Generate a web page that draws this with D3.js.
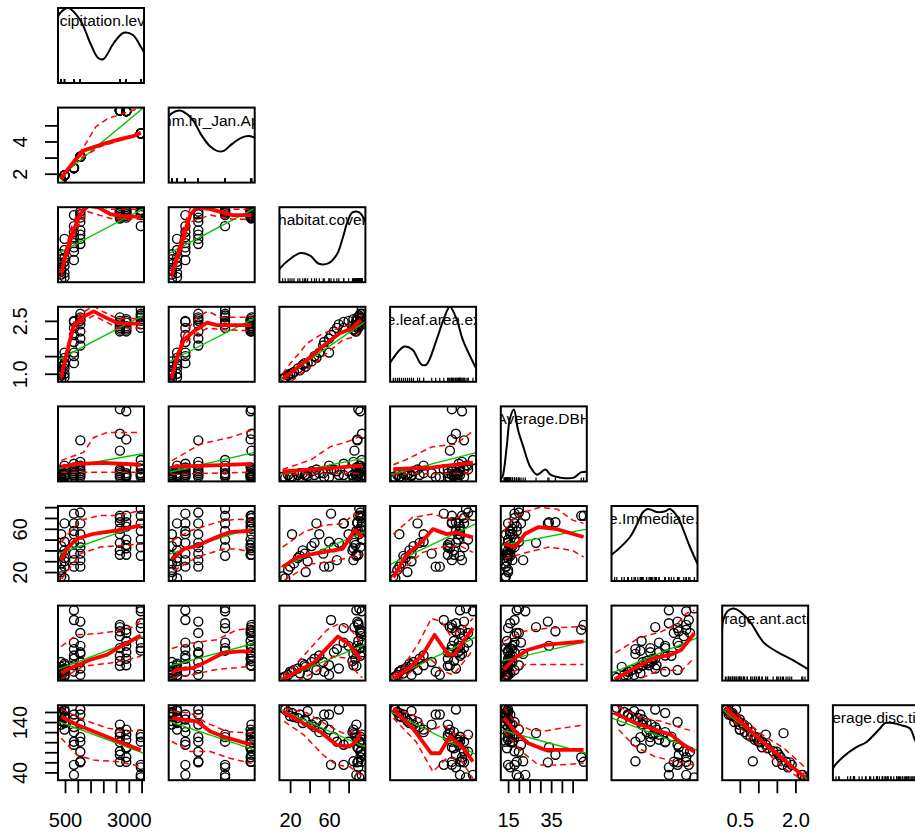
<!DOCTYPE html>
<html><head><meta charset="utf-8">
<script src="https://cdn.jsdelivr.net/npm/d3@7"></script>
<style>
body{margin:0;background:#fff}
svg{display:block}
text{font-family:"Liberation Sans",Arial,sans-serif;fill:#000}
</style>
</head><body>
<svg id="chart" width="915" height="835"></svg>
<script>
// Variable names shown on the diagonal
const varNames = ["precipitation.levels", "mm.hr_Jan.Apr", "habitat.cover", "Average.leaf.area.exposure",
  "Average.DBH", "Average.Immediate.canopy", "Average.ant.activity", "Average.disc.time"];

// One value per plot (7 sites)
const precipitation = [350,350,350,350,350,350,350, 480,480,480,480,480,480,480,
  850,850,850,850,850,850,850,850, 1100,1100,1100,1100,1100,1100,1100,1100,
  2650,2650,2650,2650,2650,2650,2650,2650, 2900,2900,2900,2900,2900,2900,2900,
  3470,3470,3470,3470,3470,3470,3470];
const mmHr = [1.62,1.62,1.62,1.62,1.62,1.62,1.62, 1.9,1.9,1.9,1.9,1.9,1.9,1.9,
  2.35,2.35,2.35,2.35,2.35,2.35,2.35,2.35, 3.05,3.05,3.05,3.05,3.05,3.05,3.05,3.05,
  5.93,5.93,5.93,5.93,5.93,5.93,5.93,5.93, 5.88,5.88,5.88,5.88,5.88,5.88,5.88,
  4.5,4.5,4.5,4.5,4.5,4.5,4.5];
const habitatCover = [12.3,18,24,30,36,42,22, 15,20,28,33,47,38,60,
  35,50,62,55,75,45,68,88, 54,89,70,80,60,92,65,85,
  90,93.8,86,92,88,91,84,93, 92,89,94,87,90,93,85,
  93.5,75,92,90,94,88,91];
const leafArea = [0.85,0.95,1.05,1.1,1.2,1.35,1.0, 0.9,1.0,1.15,1.25,1.45,1.3,1.6,
  1.3,1.6,2.1,1.9,2.47,1.5,2.3,2.5, 1.8,2.6,2.4,2.5,2.0,2.7,2.2,2.55,
  2.3,2.4,2.25,2.5,2.2,2.45,2.35,2.6, 2.55,2.3,2.45,2.2,2.35,2.5,2.25,
  2.82,2.3,2.6,2.4,2.7,2.5,2.65];
const dbh = [14,15,13.1,16,15,17,14, 13.5,14,15,16,18,14.5,20,
  15,16,18,14,21,15,17,19, 16,33.5,15,17,14,20,18,22,
  50.1,37,28,17,14,16,15,18, 49,34,15,16,14.5,19,13.5,
  23,15,14,16,18,15,20];
const immediate = [16,22,28,35,20,44,55, 14.3,25,33,40,65,30,48,
  37,55,74,25,65,47,31,58, 37,65,47,55,25,75,43,31,
  72,66,47,60,36,55,40,70, 72,66,50,45,36,62,42,
  72,65,43,58,50,35,78.5];
const antActivity = [0.11,0.2,0.35,0.25,0.45,0.6,0.3, 0.15,0.3,0.4,0.55,0.35,0.2,0.5,
  0.5,0.8,1.9,0.3,1.2,0.7,1.0,2.2, 0.6,1.85,0.4,1.1,0.2,1.5,0.9,0.85,
  1.75,1.55,1.68,0.79,0.48,1.03,0.63,1.4, 1.6,1.1,0.9,0.7,1.25,1.5,0.5,
  2.17,1.65,1.03,1.8,1.2,0.95,2.26];
const discTime = [168,160,150,155,142,135,158, 165,152,148,138,140,162,125,
  145,120,55,155,95,130,101,35, 135,60,165,101,155,81,110,62,
  61,75,118,111,135,100,120,82, 70,90,105,115,88,61,125,
  35,55,101,50,115,110,30];
const columns = [precipitation, mmHr, habitatCover, leafArea, dbh, immediate, antActivity, discTime];

// Axis ticks and the labels that are printed
const axisTicks = [[500,1000,1500,2000,2500,3000,3500],[2,3,4,5],[20,40,60,80],[1.0,1.5,2.0,2.5],
  [15,20,25,30,35,40,45],[20,30,40,50,60,70,80],[0.5,1.0,1.5,2.0],[40,60,80,100,120,140,160]];
const axisLabels = [["500","3000"],["2","4"],["20","60"],["1.0","2.5"],["15","35"],["20","60"],["0.5","2.0"],["40","140"]];

// Kernel density curves on the diagonal: [value, relative density]
const densities = [
  [[222,0.88],[301,0.93],[619,1.0],[1095,0.84],[1492,0.53],[1810,0.33],[2008,0.32],[2405,0.53],[2801,0.67],[3159,0.64],[3476,0.48],[3595,0.41]],
  [[1.45,0.88],[1.59,0.92],[2.05,0.96],[2.5,0.9],[2.8,0.82],[3.2,0.64],[3.7,0.48],[4.1,0.42],[4.4,0.42],[4.9,0.52],[5.4,0.6],[5.8,0.62],[6.1,0.6]],
  [[9,0.17],[10,0.19],[21,0.32],[31,0.39],[41,0.35],[49,0.25],[59,0.25],[68,0.37],[74,0.59],[79,0.81],[84,0.93],[91,0.93],[97,0.81]],
  [[0.77,0.25],[0.79,0.27],[1.12,0.47],[1.32,0.43],[1.55,0.23],[1.67,0.23],[1.92,0.56],[2.12,0.87],[2.25,1.0],[2.42,0.83],[2.57,0.56],[2.88,0.2],[2.9,0.18]],
  [[11.6,0.03],[12.5,0.07],[14.4,0.47],[15.8,0.83],[17.7,0.96],[19.6,0.69],[22,0.47],[25.2,0.2],[28.5,0.09],[32.3,0.16],[34.7,0.09],[39.4,0.05],[45.5,0.05],[48.8,0.12],[51.6,0.13]],
  [[11.7,0.35],[18.9,0.45],[26.8,0.59],[32.4,0.76],[37.2,0.92],[41.2,0.96],[48.3,0.92],[55,0.93],[58.7,0.96],[63,0.9],[66.7,0.8],[74.6,0.47],[81,0.23]],
  [[0.02,0.62],[0.05,0.8],[0.18,0.93],[0.34,0.96],[0.72,0.82],[1.14,0.51],[1.52,0.38],[1.87,0.29],[2.35,0.15]],
  [[24,0.14],[26.3,0.18],[42,0.31],[65.3,0.44],[82.8,0.51],[106,0.69],[114.7,0.76],[130,0.76],[143.8,0.73],[158,0.69],[167,0.53],[174,0.45]]
];

// Linear fits per panel: [row, col, [[x,y],[x,y]]]
const linearFits = [
  [1,0,[[234,1.7],[3595,6.12]]],
  [2,0,[[234,43],[3595,96]]], [2,1,[[1.47,43],[6.1,96]]],
  [3,0,[[234,1.39],[3595,2.67]]], [3,1,[[1.47,1.34],[6.1,2.58]]], [3,2,[[9.3,0.82],[97,2.48]]],
  [4,0,[[234,18.5],[3595,26.5]]], [4,1,[[1.47,16.5],[6.1,27.1]]], [4,2,[[10.3,15.1],[96,24]]], [4,3,[[0.76,15.1],[2.92,27.1]]],
  [5,0,[[234,36.9],[3595,64.6]]], [5,1,[[1.47,36.6],[6.1,61.6]]], [5,2,[[10.3,24.6],[96,57]]], [5,3,[[0.79,27.4],[2.87,64.4]]], [5,4,[[11.5,44.3],[51.6,59.7]]],
  [6,0,[[234,0.37],[3595,1.39]]], [6,1,[[1.47,0.47],[6.1,1.18]]], [6,2,[[10.3,0.06],[96,1.13]]], [6,3,[[0.76,0.06],[2.92,1.39]]], [6,4,[[11.6,0.62],[51.4,1.24]]], [6,5,[[12.2,0.26],[83.6,1.39]]],
  [7,0,[[234,141.4],[3595,78]]], [7,1,[[1.47,141.4],[6.1,84.6]]], [7,2,[[10.3,164.6],[96,91.4]]], [7,3,[[0.76,161.4],[2.92,74.6]]], [7,4,[[11.6,124.6],[51.4,78]]], [7,5,[[12.2,148],[83.6,81.4]]], [7,6,[[0.04,164.6],[2.35,24.6]]]
];

// Loess smooths per panel
const smoothFits = [
  [1,0,[[350,1.68],[500,2.05],[900,2.85],[1250,3.45],[1900,3.8],[2550,4.1],[3200,4.35],[3470,4.55]]],
  [2,0,[[350,20],[500,38],[765,65],[1095,89],[1400,99],[1800,97],[2285,89],[2650,87],[3470,86]]],
  [2,1,[[1.62,18],[1.91,38],[2.27,65],[2.63,89],[2.98,97],[3.7,95],[4.9,88],[5.93,88]]],
  [3,0,[[350,0.9],[567,1.58],[830,2.34],[1226,2.62],[1623,2.77],[2020,2.62],[2550,2.44],[2948,2.42],[3470,2.42]]],
  [3,1,[[1.62,0.9],[1.91,1.49],[2.27,1.96],[2.8,2.2],[3.52,2.45],[4.05,2.38],[5.93,2.38]]],
  [3,2,[[12.3,0.85],[24,1.1],[41,1.48],[57.7,1.87],[71,2.15],[84,2.29],[92.7,2.53]]],
  [4,0,[[350,19.5],[1000,21],[2000,21.5],[3470,20.5]]],
  [4,1,[[1.62,19.5],[3.5,20],[5.93,21]]],
  [4,2,[[12.3,17],[47.7,18.2],[94,20]]],
  [4,3,[[0.85,18.1],[1.83,19.1],[2.82,21.6]]],
  [5,0,[[350,30.8],[567,41.5],[964,50.8],[1623,55.4],[2550,58.5],[3470,63.2]]],
  [5,1,[[1.62,32],[2.27,41.3],[2.98,44.3],[4.05,52.4],[4.76,57],[5.93,58.2]]],
  [5,2,[[12.3,24.6],[27.7,33.9],[44,36.9],[64,40],[74,41.5],[86,58.5],[91,55.4],[94,52]]],
  [5,3,[[0.85,15],[1.16,35.1],[1.58,48.9],[1.83,59.7],[2.17,55.1],[2.42,56.6],[2.67,53.6],[2.82,52]]],
  [5,4,[[13.1,46.2],[18.2,43.1],[22.9,55.4],[29.2,61.6],[37,60],[44.9,55.4],[50.1,52.4]]],
  [6,0,[[350,0.26],[698,0.41],[1492,0.67],[2150,0.83],[2680,1.08],[3470,1.42]]],
  [6,1,[[1.62,0.26],[1.91,0.37],[2.8,0.42],[3.52,0.62],[4.4,0.88],[5.3,0.93],[5.93,0.93]]],
  [6,2,[[12.3,0.06],[27.7,0.32],[44,0.57],[57.7,1.03],[69,1.39],[81,1.13],[92.7,0.67]]],
  [6,3,[[0.85,0.08],[1.25,0.42],[1.58,0.83],[1.87,1.44],[2.21,0.83],[2.37,0.83],[2.58,1.24],[2.82,1.65]]],
  [6,4,[[13.1,0.37],[18.2,0.73],[24.4,0.98],[32.3,1.13],[50.1,1.24]]],
  [6,5,[[14.3,0.06],[30.8,0.42],[46.8,0.73],[60,0.83],[68,0.98],[78.5,1.49]]],
  [7,0,[[350,151.4],[964,134.6],[1623,121.4],[2285,108],[2948,94.6],[3470,84.6]]],
  [7,1,[[1.62,148],[2.27,144.6],[2.98,141.4],[3.7,121.4],[4.4,111.4],[5.93,94.6]]],
  [7,2,[[12.3,161.4],[34,137.4],[51,120.6],[67.7,94.6],[81,91.4],[87.7,101.4],[92.7,118]]],
  [7,3,[[0.85,164.6],[1.33,128],[1.79,78],[2.0,78],[2.25,111.4],[2.58,88],[2.82,61.4]]],
  [7,4,[[13.1,148],[18.2,121.4],[24.4,98],[32.3,84.6],[50.1,84.6]]],
  [7,5,[[14.3,158],[30.8,138],[46.8,124.6],[60,114.6],[68,98],[78.5,81.4]]],
  [7,6,[[0.11,168],[1.11,101.4],[1.64,68],[2.26,30]]]
];

// Upper spread of the smooth
const spreadUpper = [
  [1,0,[[350,1.72],[900,2.95],[1250,3.7],[1700,4.9],[2150,5.4],[2800,5.75],[3470,6.1]]],
  [2,0,[[350,23],[500,45],[765,75],[1095,97],[1400,104],[2285,95],[3470,95]]],
  [2,1,[[1.62,22],[1.91,45],[2.27,75],[2.63,97],[3.7,100],[4.9,95],[5.93,95]]],
  [3,0,[[350,0.95],[567,1.7],[830,2.45],[1226,2.75],[1623,2.92],[2020,2.75],[2550,2.57],[3470,2.57]]],
  [3,1,[[1.62,0.95],[1.91,1.6],[2.27,2.1],[2.98,2.62],[3.59,2.77],[4.23,2.6],[5.93,2.6]]],
  [3,2,[[12.3,1.0],[17.7,1.2],[37.7,1.87],[54,2.15],[71,2.3],[87.7,2.44],[94,2.67]]],
  [4,0,[[350,22.8],[1226,27.1],[1623,35],[2150,37.7],[3470,37.7]]],
  [4,1,[[1.62,22.7],[3.16,31.5],[4.76,35],[5.93,38.8]]],
  [4,2,[[12.3,18],[41,23],[61,30],[80,33],[94,36]]],
  [4,3,[[0.85,20.5],[1.15,23],[1.8,30],[2.4,31.5],[2.82,38.5]]],
  [5,0,[[350,47.7],[1095,67.8],[1889,72.4],[2615,72.4],[3470,77]]],
  [5,1,[[1.62,48.9],[2.63,58.2],[4.05,66],[5.12,69],[5.93,68]]],
  [5,2,[[12.3,43],[34,57],[54,63.2],[74,64.6],[86,73.9],[94,71]]],
  [5,3,[[0.85,55],[0.99,59.7],[1.33,70.6],[1.83,73.6],[2.25,69],[2.58,72],[2.82,66.7]]],
  [5,4,[[13.1,57],[15,65],[22,75],[30,80],[38,78],[45,68],[50.1,65]]],
  [6,0,[[350,1.08],[964,1.44],[1889,1.49],[2680,1.58],[3210,1.7],[3470,1.9]]],
  [6,1,[[1.62,1.02],[2.63,1.18],[4.05,1.29],[5.12,1.59],[5.93,1.65]]],
  [6,2,[[12.3,0.2],[21,0.37],[41,1.03],[57.7,1.59],[71,1.8],[84,1.54],[92.7,1.2]]],
  [6,3,[[0.85,0.2],[1.08,0.42],[1.5,1.24],[1.79,1.95],[2.04,1.85],[2.25,1.44],[2.58,1.65],[2.82,1.95]]],
  [6,4,[[13.1,1.24],[21.3,1.54],[32.3,1.64],[50.1,1.7]]],
  [6,5,[[14.9,0.88],[33.4,1.34],[52,1.54],[65.3,1.8],[72,2.1],[78.5,2.2]]],
  [7,0,[[350,166],[1226,144.6],[2150,128],[2948,121.4],[3470,124.6]]],
  [7,1,[[1.62,161.4],[2.63,158],[3.52,138],[4.59,121.4],[5.93,118]]],
  [7,2,[[14,168],[37.7,158],[57.7,134.6],[74,118],[91,121.4],[94,124.6]]],
  [7,3,[[0.85,168],[1.41,151.4],[1.75,121.4],[2.08,134.6],[2.42,114.6],[2.82,111.4]]],
  [7,4,[[13.1,168],[18,140],[25,125],[32,122],[40,128],[50.1,134]]],
  [7,5,[[17.5,171.4],[36.2,148],[52,141.4],[68,128],[78.5,121.4]]],
  [7,6,[[0.2,170],[1.11,114.6],[1.69,88],[2.26,50]]]
];

// Lower spread of the smooth
const spreadLower = [
  [1,0,[[350,1.62],[900,2.75],[1900,3.7],[3470,4.45]]],
  [2,0,[[350,16],[500,32],[765,56],[1095,80],[1400,92],[2285,84],[3470,83]]],
  [2,1,[[1.62,14],[1.91,32],[2.27,56],[2.63,80],[3.7,88],[4.9,83],[5.93,83]]],
  [3,0,[[350,0.85],[567,1.5],[830,2.2],[1226,2.5],[1623,2.65],[2020,2.5],[2550,2.3],[3470,2.3]]],
  [3,1,[[1.62,0.85],[1.91,1.4],[2.27,1.85],[2.98,2.15],[3.59,2.3],[4.23,2.25],[5.93,2.22]]],
  [3,2,[[21,0.78],[41,1.2],[57.7,1.58],[74,1.96],[87.7,2.06],[94,2.3]]],
  [4,0,[[350,16.5],[3470,16.5]]],
  [4,1,[[1.62,15.4],[5.93,16.5]]],
  [4,2,[[12.3,15.5],[94,16]]],
  [4,3,[[0.85,15.5],[2.82,16]]],
  [5,0,[[366,13.5],[1095,36.9],[1889,43.1],[2680,44.6],[3470,45.9]]],
  [5,1,[[1.73,21.2],[2.98,33.9],[4.4,41.3],[5.1,41.3],[5.93,38.5]]],
  [5,2,[[14,12.3],[41,27.4],[67.7,30.5],[81,33.6],[94,36.5]]],
  [5,3,[[0.99,19.7],[1.58,38.2],[2,42.8],[2.5,44.3],[2.82,38.2]]],
  [5,4,[[13.5,32.3],[24.4,38.5],[33.9,43.1],[44.9,40],[50.1,33.9]]],
  [6,0,[[350,0.08],[1226,0.47],[2285,0.57],[2948,0.67],[3470,0.78]]],
  [6,1,[[1.62,0.11],[2.63,0.2],[4.05,0.37],[5.12,0.42],[5.93,0.47]]],
  [6,2,[[27.7,0.02],[47.7,0.32],[64,0.78],[77,0.72],[84,0.42],[94,0.11]]],
  [6,3,[[1.0,0.02],[1.41,0.42],[1.75,0.72],[2.08,0.32],[2.33,0.2],[2.67,0.72],[2.82,0.98]]],
  [6,4,[[13.1,0.11],[23,0.52],[32.3,0.52],[50.1,0.52]]],
  [6,5,[[36.2,0.11],[52,0.37],[68,0.32],[78.5,0.73]]],
  [7,0,[[350,108],[964,74.6],[1623,64.6],[2550,61.4],[3210,54.6],[3470,52]]],
  [7,1,[[1.62,101.4],[2.63,81.4],[3.7,81.4],[4.76,68],[5.93,58]]],
  [7,2,[[14,141.4],[34,114.6],[54,74.6],[67.7,54.6],[81,51.4],[92.7,34.6]]],
  [7,3,[[0.85,148],[1.41,101.4],[1.83,41.4],[2.17,68],[2.5,68],[2.82,28]]],
  [7,4,[[13.1,121.4],[21.3,81.4],[29.2,54.6],[37,54.6],[50.1,58]]],
  [7,5,[[17.5,124.6],[30.8,91.4],[46.8,71.4],[62.7,61.4],[78.5,54.6]]],
  [7,6,[[0.13,155],[1.11,88],[1.7,48],[2.26,22]]]
];

// ---- layout ----
const PW = 86, PH = 75, LEFT = 58, TOP = 8, STEP_X = 110.7, STEP_Y = 99.6;
const nVar = columns.length;
const svg = d3.select("#chart");

function padded(ext) { const s = (ext[1] - ext[0]) * 0.04; return [ext[0] - s, ext[1] + s]; }
const domains = columns.map(c => padded(d3.extent(c)));
const px = j => LEFT + STEP_X * j;
const py = i => TOP + STEP_Y * i;
const xScale = j => d3.scaleLinear().domain(domains[j]).range([px(j), px(j) + PW]);
const yScale = i => d3.scaleLinear().domain(domains[i]).range([py(i) + PH, py(i)]);

const defs = svg.append("defs");
function clipFor(i, j) {
  const id = `clip-${i}-${j}`;
  defs.append("clipPath").attr("id", id).append("rect")
    .attr("x", px(j)).attr("y", py(i)).attr("width", PW).attr("height", PH);
  return `url(#${id})`;
}

function findPts(list, i, j) { const e = list.find(d => d[0] === i && d[1] === j); return e ? e[2] : null; }

// diagonal: density, rug, name
for (let k = 0; k < nVar; k++) {
  const g = svg.append("g").attr("clip-path", clipFor(k, k));
  const xs = xScale(k);
  const ys = d3.scaleLinear().domain([0, 1]).range([py(k) + PH, py(k)]);
  g.append("path").datum(densities[k])
    .attr("fill", "none").attr("stroke", "#000").attr("stroke-width", 2)
    .attr("d", d3.line().x(d => xs(d[0])).y(d => ys(d[1])).curve(d3.curveCatmullRom.alpha(0.5)));
  g.selectAll("line.rug").data(columns[k]).join("line")
    .attr("x1", d => xs(d)).attr("x2", d => xs(d))
    .attr("y1", py(k) + PH).attr("y2", py(k) + PH - 4)
    .attr("stroke", "#000").attr("stroke-width", 1.2);
  g.append("text").attr("x", px(k) + PW / 2).attr("y", py(k) + 18)
    .attr("text-anchor", "middle").attr("font-size", 15.5).text(varNames[k]);
}

// lower panels: points, linear fit, smooth and its spread
const pathOf = (xs, ys) => d3.line().x(d => xs(d[0])).y(d => ys(d[1]));
for (let i = 1; i < nVar; i++) {
  for (let j = 0; j < i; j++) {
    const xs = xScale(j), ys = yScale(i);
    const g = svg.append("g").attr("clip-path", clipFor(i, j));
    g.selectAll("circle").data(columns[j].map((v, r) => [v, columns[i][r]])).join("circle")
      .attr("cx", d => xs(d[0])).attr("cy", d => ys(d[1])).attr("r", 4.5)
      .attr("fill", "none").attr("stroke", "#000").attr("stroke-width", 1.4);
    const lf = findPts(linearFits, i, j);
    if (lf) g.append("path").datum(lf).attr("fill", "none").attr("stroke", "#00c800")
      .attr("stroke-width", 1.4).attr("d", pathOf(xs, ys));
    [[spreadUpper, 1.5, "6,4"], [spreadLower, 1.5, "6,4"], [smoothFits, 3.8, null]].forEach(([list, w, dash]) => {
      const pts = findPts(list, i, j);
      if (!pts) return;
      const p = g.append("path").datum(pts).attr("fill", "none").attr("stroke", "#ff0000")
        .attr("stroke-width", w).attr("stroke-linejoin", "round").attr("d", pathOf(xs, ys));
      if (dash) p.attr("stroke-dasharray", dash);
    });
  }
}

// panel frames
for (let i = 0; i < nVar; i++) for (let j = 0; j <= i; j++) {
  svg.append("rect").attr("x", px(j)).attr("y", py(i)).attr("width", PW).attr("height", PH)
    .attr("fill", "none").attr("stroke", "#000").attr("stroke-width", 2);
}

// axes: bottom under columns 0,2,4,6; left beside rows 1,3,5,7
function fmt(k) { return d => { const s = axisLabels[k].find(l => +l === d); return s === undefined ? "" : s; }; }
[0, 2, 4, 6].forEach(j => {
  const ax = svg.append("g").attr("transform", `translate(0,${py(nVar - 1) + PH})`)
    .call(d3.axisBottom(xScale(j)).tickValues(axisTicks[j]).tickSize(13).tickFormat(fmt(j)));
  ax.select(".domain").remove();
  ax.selectAll("line").attr("stroke-width", 1.8);
  ax.selectAll("text").attr("y", 47).attr("dy", 0).attr("font-size", 20).attr("fill", "#000");
});
[1, 3, 5, 7].forEach(i => {
  const ax = svg.append("g").attr("transform", `translate(${LEFT},0)`)
    .call(d3.axisLeft(yScale(i)).tickValues(axisTicks[i]).tickSize(13).tickFormat(fmt(i)));
  ax.select(".domain").remove();
  ax.selectAll("line").attr("stroke-width", 1.8);
  ax.selectAll("text").attr("x", 0).attr("dy", 0).attr("text-anchor", "middle")
    .attr("transform", "translate(-31,0) rotate(-90)").attr("font-size", 20).attr("fill", "#000");
});
svg.selectAll(".tick text").style("font-family", "'Liberation Sans', Arial, sans-serif");
</script>
</body></html>
